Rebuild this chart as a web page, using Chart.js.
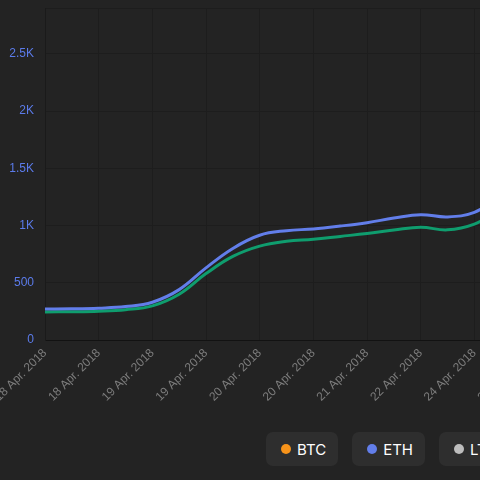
<!DOCTYPE html>
<html>
<head>
<meta charset="utf-8">
<script src="https://cdn.jsdelivr.net/npm/chart.js@4/dist/chart.umd.min.js"></script>
<style>
  html, body { margin: 0; padding: 0; width: 480px; height: 480px; overflow: hidden; background: #232323; }
  #wrap { position: absolute; left: 0; top: 0; width: 540px; height: 420px; }
  #legend { position: absolute; left: 266px; top: 432px; display: flex; gap: 14px; white-space: nowrap; }
  .pill { display: flex; align-items: center; height: 34px; padding: 0 12px 0 15px; background: #2e2e2e; border-radius: 7px; font-family: Inter, "Liberation Sans", sans-serif; font-size: 15px; color: #ffffff; box-sizing: border-box; }
  .dot { width: 10px; height: 10px; border-radius: 50%; margin-right: 6px; }
</style>
</head>
<body>
<div id="wrap"><canvas id="c"></canvas></div>
<div id="legend"></div>
<script>
const categories = [
  "18 Apr. 2018", "18 Apr. 2018", "18 Apr. 2018", "18 Apr. 2018",
  "19 Apr. 2018", "19 Apr. 2018", "19 Apr. 2018", "19 Apr. 2018",
  "20 Apr. 2018", "20 Apr. 2018", "20 Apr. 2018", "21 Apr. 2018",
  "21 Apr. 2018", "22 Apr. 2018", "22 Apr. 2018", "23 Apr. 2018",
  "24 Apr. 2018", "24 Apr. 2018", "25 Apr. 2018"
];
const ethValues = [270, 272, 278, 292, 330, 440, 630, 800, 915, 955, 970, 995, 1025, 1065, 1095, 1075, 1115, 1250, 1300];
const greenValues = [245, 247, 252, 265, 298, 400, 580, 730, 820, 862, 880, 905, 930, 960, 985, 962, 1012, 1140, 1200];
const legendNames = ["BTC", "ETH", "LTC"];
const legendColors = ["#f7931a", "#627eea", "#bdbdbd"];
const yTickValues = [0, 500, 1000, 1500, 2000, 2500];
const yMax = 2900;

const gridColor = "#1d1d1d";

new Chart(document.getElementById("c"), {
  type: "line",
  data: {
    labels: categories,
    datasets: [
      { label: "ETH", data: ethValues, borderColor: "#627eea", borderWidth: 3, pointRadius: 0, tension: 0.4, fill: false },
      { label: "ETH low", data: greenValues, borderColor: "#0f9d6e", borderWidth: 3, pointRadius: 0, tension: 0.4, fill: false }
    ]
  },
  options: {
    responsive: true,
    maintainAspectRatio: false,
    animation: false,
    layout: { padding: { top: 8, right: 12, left: 0, bottom: 0 } },
    plugins: { legend: { display: false }, tooltip: { enabled: false } },
    scales: {
      x: {
        grid: {
          color: (ctx) => (ctx.index % 2 === 0 ? gridColor : "rgba(0,0,0,0)"),
          drawTicks: false
        },
        border: { color: "#121212", width: 1 },
        ticks: {
          autoSkip: false,
          minRotation: 45,
          maxRotation: 45,
          padding: 6,
          color: "#7c7c7c",
          font: { family: "'Liberation Sans', Arial, sans-serif", size: 12 },
          callback: function (value, index) { return index % 2 === 0 ? this.getLabelForValue(value) : ""; }
        },
        afterFit: (scale) => { scale.height = 80; scale.paddingLeft = 0; scale.paddingRight = 0; }
      },
      y: {
        min: 0,
        max: yMax,
        grid: { color: gridColor, drawTicks: false },
        border: { color: "#1a1a1a", width: 1 },
        afterBuildTicks: (scale) => {
          scale.ticks = yTickValues.concat([yMax]).map((v) => ({ value: v }));
        },
        ticks: {
          autoSkip: false,
          padding: 11,
          color: "#5b7bea",
          font: { family: "'Liberation Sans', Arial, sans-serif", size: 12 },
          callback: (v) => (yTickValues.includes(v) ? (v >= 1000 ? (v / 1000) + "K" : String(v)) : "")
        },
        afterFit: (scale) => { scale.width = 45; scale.paddingTop = 0; scale.paddingBottom = 0; }
      }
    }
  }
});

const legend = document.getElementById("legend");
legendNames.forEach((name, i) => {
  const pill = document.createElement("div");
  pill.className = "pill";
  const dot = document.createElement("span");
  dot.className = "dot";
  dot.style.background = legendColors[i];
  pill.appendChild(dot);
  pill.appendChild(document.createTextNode(name));
  legend.appendChild(pill);
});
</script>
</body>
</html>
